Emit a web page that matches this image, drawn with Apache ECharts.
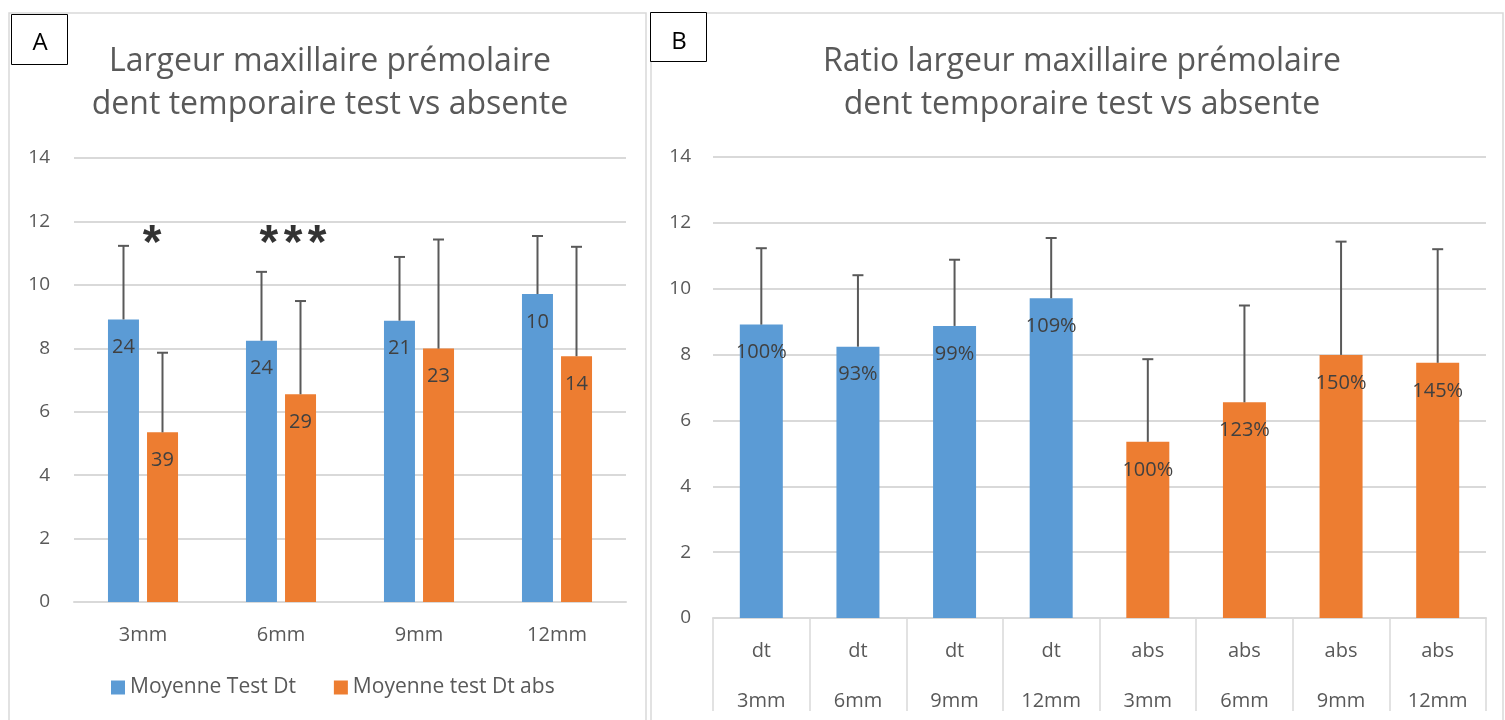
<!DOCTYPE html>
<html><head><meta charset="utf-8">
<script src="https://cdn.jsdelivr.net/npm/echarts@6/dist/echarts.min.js"></script>
<style>html,body{margin:0;padding:0;background:#fff}#c{width:1505px;height:720px}</style>
</head><body><div id="c"></div>
<script>
// ---- data ----
const categoriesA = ['3mm', '6mm', '9mm', '12mm'];
const seriesNames = ['Moyenne Test Dt', 'Moyenne test Dt abs'];
const meanDt = [8.91, 8.24, 8.87, 9.71];
const meanAbs = [5.35, 6.55, 7.99, 7.75];
const sdDt = [2.32, 2.17, 2.01, 1.83];
const sdAbs = [2.51, 2.94, 3.44, 3.45];
const countDt = ['24', '24', '21', '10'];
const countAbs = ['39', '29', '23', '14'];
const signifA = ['*', '***', '', ''];
const signifLevel = [11.25, 11.25, null, null];
const groupB = ['dt', 'dt', 'dt', 'dt', 'abs', 'abs', 'abs', 'abs'];
const sizeB = ['3mm', '6mm', '9mm', '12mm', '3mm', '6mm', '9mm', '12mm'];
const ratioB = ['100%', '93%', '99%', '109%', '100%', '123%', '150%', '145%'];
const titleA = 'Largeur maxillaire prémolaire\ndent temporaire test vs absente';
const titleB = 'Ratio largeur maxillaire prémolaire\ndent temporaire test vs absente';
const yMin = 0, yMax = 14, yStep = 2;

// ---- styles ----
const BLUE = '#5B9BD5', ORANGE = '#ED7D31', GRID = '#D9D9D9', TXT = '#595959';
const FONT = '"Open Sans", "Liberation Sans", sans-serif';
const starOffsets = [[9, 0], [12, 0]];

const meanB = meanDt.concat(meanAbs);
const sdB = sdDt.concat(sdAbs);
const catB = groupB.map((g, i) => g + '\n' + sizeB[i]);

function errRender(dx) {
  return function (params, api) {
    const x = api.value(0), y = api.value(1), e = api.value(2);
    const p0 = api.coord([x, y]);
    const p1 = api.coord([x, y + e]);
    const cap = 5.5;
    const style = { stroke: '#595959', lineWidth: 2 };
    return {
      type: 'group', children: [
        { type: 'line', shape: { x1: p0[0] + dx, y1: p0[1], x2: p1[0] + dx, y2: p1[1] }, style: style },
        { type: 'line', shape: { x1: p1[0] + dx - cap, y1: p1[1], x2: p1[0] + dx + cap, y2: p1[1] }, style: style }
      ]
    };
  };
}

function yAxis(gridIndex, margin) {
  return {
    type: 'value', gridIndex: gridIndex, min: yMin, max: yMax, interval: yStep,
    axisLine: { show: false }, axisTick: { show: false },
    axisLabel: { color: TXT, fontSize: 19, fontFamily: FONT, margin: margin },
    splitLine: { lineStyle: { color: GRID, width: 2 } }
  };
}

const barLabel = (arr) => ({
  show: true, position: 'insideTop', distance: 18,
  color: '#404040', fontSize: 20, fontFamily: FONT, lineHeight: 20,
  formatter: (p) => arr[p.dataIndex]
});

const starData = [];
signifLevel.forEach((v, i) => {
  if (v !== null) starData.push({ value: [i, v], label: { offset: starOffsets[i] } });
});

const chart = echarts.init(document.getElementById('c'), null, { renderer: 'canvas' });
chart.setOption({
  animation: false,
  backgroundColor: '#fff',
  graphic: [
    { type: 'rect', shape: { x: 9, y: 13, width: 637, height: 720 }, style: { fill: 'none', stroke: GRID, lineWidth: 1.5 }, z: -10 },
    { type: 'rect', shape: { x: 651, y: 13, width: 852, height: 720 }, style: { fill: 'none', stroke: GRID, lineWidth: 1.5 }, z: -10 },
    { type: 'rect', shape: { x: 11.5, y: 14.5, width: 56, height: 50 }, style: { fill: '#fff', stroke: '#000', lineWidth: 1 }, z: 10 },
    { type: 'text', x: 40, y: 43, style: { text: 'A', fill: '#000', font: '24px ' + FONT, align: 'center', verticalAlign: 'middle' }, z: 11 },
    { type: 'rect', shape: { x: 650.5, y: 12.5, width: 56, height: 49 }, style: { fill: '#fff', stroke: '#000', lineWidth: 1 }, z: 10 },
    { type: 'text', x: 679, y: 42, style: { text: 'B', fill: '#000', font: '24px ' + FONT, align: 'center', verticalAlign: 'middle' }, z: 11 },
    { type: 'text', x: 330, y: 40, style: { text: titleA, fill: TXT, font: '32px ' + FONT, align: 'center', verticalAlign: 'top', lineHeight: 43 } },
    { type: 'text', x: 1082, y: 40, style: { text: titleB, fill: TXT, font: '32px ' + FONT, align: 'center', verticalAlign: 'top', lineHeight: 43 } }
  ],
  legend: {
    data: seriesNames, left: 111, top: 677, padding: 0, itemWidth: 14, itemHeight: 14, itemGap: 38,
    icon: 'rect', textStyle: { color: TXT, fontSize: 21, fontFamily: FONT }
  },
  grid: [
    { left: 74, top: 158, width: 552, height: 444, outerBoundsMode: 'none', containLabel: false },
    { left: 713, top: 157, width: 773, height: 461, outerBoundsMode: 'none', containLabel: false }
  ],
  xAxis: [
    {
      type: 'category', gridIndex: 0, data: categoriesA,
      axisLine: { show: true, lineStyle: { color: GRID, width: 2 } }, axisTick: { show: false },
      axisLabel: { color: TXT, fontSize: 20, fontFamily: FONT, margin: 23, lineHeight: 20 }
    },
    {
      type: 'category', gridIndex: 1, data: catB,
      axisLine: { show: true, lineStyle: { color: GRID, width: 2 } },
      axisTick: { show: true, interval: 0, length: 93, lineStyle: { color: GRID, width: 1.5 } },
      axisLabel: { interval: 0, color: TXT, fontSize: 20, fontFamily: FONT, margin: 8, lineHeight: 50 }
    }
  ],
  yAxis: [yAxis(0, 24), yAxis(1, 22)],
  series: [
    {
      name: seriesNames[0], type: 'bar', xAxisIndex: 0, yAxisIndex: 0, data: meanDt,
      barWidth: 31, barGap: '26%', itemStyle: { color: BLUE }, label: barLabel(countDt)
    },
    {
      name: seriesNames[1], type: 'bar', xAxisIndex: 0, yAxisIndex: 0, data: meanAbs,
      barWidth: 31, barGap: '26%', itemStyle: { color: ORANGE }, label: barLabel(countAbs)
    },
    {
      type: 'custom', xAxisIndex: 0, yAxisIndex: 0, z: 5,
      data: meanDt.map((v, i) => [i, v, sdDt[i]]), encode: { x: 0, y: 1 },
      renderItem: errRender(-19.5)
    },
    {
      type: 'custom', xAxisIndex: 0, yAxisIndex: 0, z: 5,
      data: meanAbs.map((v, i) => [i, v, sdAbs[i]]), encode: { x: 0, y: 1 },
      renderItem: errRender(19.5)
    },
    {
      type: 'scatter', xAxisIndex: 0, yAxisIndex: 0, symbolSize: 1,
      itemStyle: { color: 'rgba(0,0,0,0)' }, silent: true,
      data: starData,
      label: {
        show: true, position: 'inside', color: '#000',
        formatter: (p) => signifA[p.dataIndex].split('').map(() => '{s|*}').join(''),
        rich: { s: { fontSize: 48, fontWeight: 'bold', fontFamily: '"Liberation Sans", sans-serif', color: '#000', padding: [0, 2.7, 0, 2.7] } }
      }
    },
    {
      type: 'bar', xAxisIndex: 1, yAxisIndex: 1, barWidth: 43,
      data: meanB.map((v, i) => ({ value: v, itemStyle: { color: i < 4 ? BLUE : ORANGE } })),
      label: barLabel(ratioB)
    },
    {
      type: 'custom', xAxisIndex: 1, yAxisIndex: 1, z: 5,
      data: meanB.map((v, i) => [i, v, sdB[i]]), encode: { x: 0, y: 1 },
      renderItem: errRender(0)
    }
  ]
});
</script>
</body></html>
